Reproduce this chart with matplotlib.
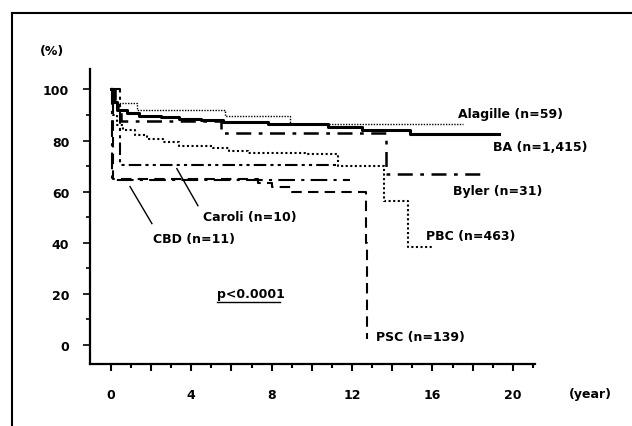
import matplotlib
matplotlib.use('Agg')
import matplotlib.pyplot as plt
from matplotlib.lines import Line2D
from matplotlib.ticker import FixedLocator, FuncFormatter

# ------------ DATA (Kaplan-Meier steps: years, %) ------------
ba_t = [0, 0.1, 0.3, 0.8, 1.4, 2.5, 3.4, 4.5, 5.6, 7.8, 10.8, 12.5, 14.9, 19.3]
ba_s = [100, 95, 92, 90.6, 89.8, 89.2, 88.6, 88.0, 87.4, 86.6, 85.4, 84.0, 82.4, 82.4]

alagille_t = [0, 0.2, 1.3, 5.7, 8.9, 17.5]
alagille_s = [100, 94.5, 91.8, 89.6, 86.4, 86.4]

byler_t = [0, 0.2, 0.5, 5.5, 13.7, 18.4]
byler_s = [100, 93, 87.8, 82.9, 67.0, 67.0]

pbc_t = [0, 0.1, 0.3, 0.6, 1.2, 1.8, 2.6, 3.4, 5.1, 5.9, 6.8, 9.65, 11.3, 13.6, 14.8, 16.0]
pbc_s = [100, 90, 86, 84, 82, 80.8, 79.6, 78, 76.9, 75.8, 75.3, 74.6, 70.2, 56.5, 38.4, 38.4]

caroli_t = [0, 0.45, 11.2]
caroli_s = [100, 70.6, 70.6]

cbd_t = [0, 0.05, 11.9]
cbd_s = [100, 64.4, 64.4]

psc_t = [0, 0.1, 7.3, 8.0, 9.0, 12.7, 12.75]
psc_s = [100, 65, 63.5, 62, 60, 40, 2.4]

labels = ['Alagille (n=59)', 'BA (n=1,415)', 'Byler (n=31)', 'PBC (n=463)',
          'PSC (n=139)', 'Caroli (n=10)', 'CBD (n=11)']
x_ticks = [0, 4, 8, 12, 16, 20]
y_ticks = [0, 20, 40, 60, 80, 100]

# ------------ PLOT ------------
plt.rcParams['font.family'] = ['DejaVu Sans']
plt.rcParams['font.weight'] = 'bold'
fig = plt.figure(figsize=(6.32, 4.27), dpi=100)
ax = fig.add_axes([90/632, 1-365/427, (535-90)/632, (365-70)/427])

ax.step(alagille_t, alagille_s, where='post', color='k', lw=1.0, dashes=(1, 1))
ax.step(ba_t, ba_s, where='post', color='k', lw=2.2)
ax.step(byler_t, byler_s, where='post', color='k', lw=1.8, dashes=(6, 3, 1.5, 3))
ax.step(pbc_t, pbc_s, where='post', color='k', lw=1.5, dashes=(1, 1.2))
ax.step(caroli_t, caroli_s, where='post', color='k', lw=1.5, dashes=(6, 2, 1.5, 2, 1.5, 2))
ax.step(cbd_t, cbd_s, where='post', color='k', lw=1.5, dashes=(8, 3, 1.5, 3))
ax.step(psc_t, psc_s, where='post', color='k', lw=1.5, dashes=(5, 3))

fs = 9
ax.text(17.26, 90.6, labels[0], fontsize=fs, va='center')
ax.text(19.0, 77.6, labels[1], fontsize=fs, va='center', clip_on=False)
ax.text(17.0, 60.4, labels[2], fontsize=fs, va='center')
ax.text(15.7, 42.7, labels[3], fontsize=fs, va='center')
ax.text(13.2, 3.5, labels[4], fontsize=fs, va='center')
ax.text(4.6, 50.2, labels[5], fontsize=fs, va='center')
ax.text(2.1, 41.6, labels[6], fontsize=fs, va='center')
ax.plot([4.33, 3.28], [54.5, 69.0], color='k', lw=1)
ax.plot([2.04, 0.95], [47.5, 62.0], color='k', lw=1)
ax.text(5.27, 20, 'p<0.0001', fontsize=fs, va='center')
ax.plot([5.27, 8.4], [16.8, 16.8], color='k', lw=1)

ax.set_xlim(-1.04, 21.1)
ax.set_ylim(-7.45, 108)
for s in ['top', 'right']:
    ax.spines[s].set_visible(False)
for s in ['left', 'bottom']:
    ax.spines[s].set_linewidth(1.6)

ax.xaxis.set_major_locator(FixedLocator(range(0, 21, 2)))
ax.xaxis.set_minor_locator(FixedLocator(range(1, 22, 2)))
ax.xaxis.set_major_formatter(FuncFormatter(lambda v, p: '%d' % v if v % 4 == 0 else ''))
ax.yaxis.set_major_locator(FixedLocator(y_ticks))
ax.yaxis.set_minor_locator(FixedLocator(range(10, 100, 20)))
ax.tick_params(axis='x', which='major', length=5, width=1.5, pad=12, labelsize=fs)
ax.tick_params(axis='x', which='minor', length=3, width=1.5)
ax.tick_params(axis='y', which='major', length=5, width=1.2, pad=10, labelsize=fs)
ax.tick_params(axis='y', which='minor', length=3, width=1.2)

fig.text(590/632, 1-395/427, '(year)', fontsize=fs, ha='center', va='center')
fig.text(52/632, 1-52/427, '(%)', fontsize=fs, ha='center', va='center')

# outer frame
fig.add_artist(Line2D([12/632, 1], [1-14/427, 1-14/427], color='k', lw=1.5))
fig.add_artist(Line2D([12/632, 12/632], [0, 1-14/427], color='k', lw=1.5))

fig.savefig('out.png', dpi=100)
